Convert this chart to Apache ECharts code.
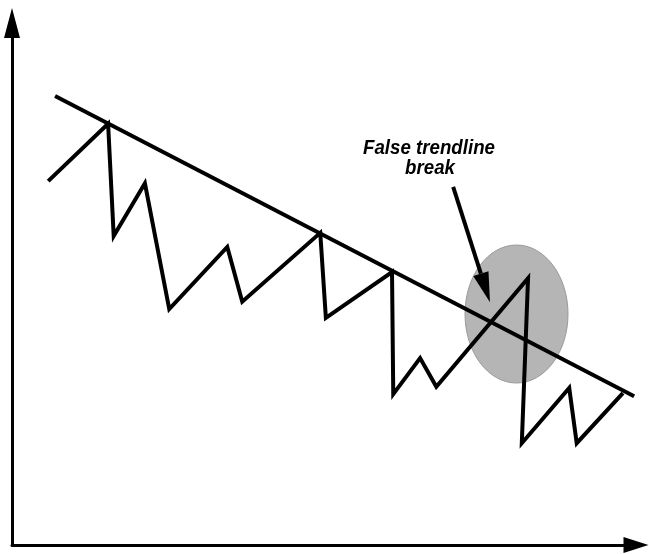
<!DOCTYPE html>
<html>
<head>
<meta charset="utf-8">
<script src="https://cdn.jsdelivr.net/npm/echarts@6/dist/echarts.min.js"></script>
<style>
  html, body { margin: 0; padding: 0; background: #fff; }
  #main { width: 649px; height: 554px; }
</style>
</head>
<body>
<div id="main"></div>
<script>
// price swings (time, price)
const priceX = [5.8, 15.4, 16.3, 21.3, 25.2, 34.5, 36.9, 49.4, 50.3, 60.9, 61.1, 65.4, 68.0, 82.7, 81.7, 89.3, 90.5, 97.9]
const priceY = [69.7, 80.7, 59.2, 69.3, 45.2, 57.1, 46.6, 59.8, 43.5, 52.3, 28.9, 35.8, 30.3, 51.1, 19.5, 30.1, 19.5, 29.1]
// trendline touching the highs
const trendX = [6.9, 99.7]
const trendY = [86.0, 28.5]
// false break zone and callout
const breakZone = [80.85, 44.25]
const calloutFrom = [70.7, 68.6]
const calloutTo = [76.6, 46.5]
const calloutText = ['False trendline', 'break']

const chart = echarts.init(document.getElementById('main'))

const hiddenAxis = {
  type: 'value',
  min: 0,
  max: 100,
  splitLine: { show: false },
  axisTick: { show: false },
  axisLabel: { show: false },
}

const option = {
  backgroundColor: '#fff',
  animation: false,
  grid: { left: 12, right: 13, top: 23, bottom: 9 },
  xAxis: Object.assign({}, hiddenAxis, {
    axisLine: {
      show: true,
      symbol: ['none', 'triangle'],
      symbolSize: [16, 25],
      lineStyle: { color: '#000', width: 3 },
    },
  }),
  yAxis: Object.assign({}, hiddenAxis, {
    axisLine: {
      show: true,
      symbol: ['none', 'triangle'],
      symbolSize: [16, 30],
      lineStyle: { color: '#000', width: 3 },
    },
  }),
  series: [
    {
      type: 'line',
      z: 3,
      showSymbol: false,
      data: priceX.map((x, i) => [x, priceY[i]]),
      lineStyle: { color: '#000', width: 4, join: 'miter', cap: 'butt' },
    },
    {
      type: 'line',
      z: 3,
      showSymbol: false,
      data: trendX.map((x, i) => [x, trendY[i]]),
      lineStyle: { color: '#000', width: 4, cap: 'butt' },
    },
  ],
}
chart.setOption(option)

// annotations placed through the axes
const c = chart.convertToPixel({ gridIndex: 0 }, breakZone)
const a = chart.convertToPixel({ gridIndex: 0 }, calloutFrom)
const b = chart.convertToPixel({ gridIndex: 0 }, calloutTo)
const dx = b[0] - a[0], dy = b[1] - a[1]
const len = Math.sqrt(dx * dx + dy * dy)
const ux = dx / len, uy = dy / len
const headLen = 30, headHalf = 8
const base = [b[0] - ux * headLen, b[1] - uy * headLen]

const labelFont = 'italic 900 21px "Liberation Sans", Arial, sans-serif'

chart.setOption({
  graphic: [
    {
      type: 'ellipse',
      z: 0,
      shape: { cx: c[0], cy: c[1], rx: 51.5, ry: 69 },
      style: { fill: '#b5b5b5', stroke: '#9a9a9a', lineWidth: 1 },
    },
    {
      type: 'line',
      z: 100,
      shape: { x1: a[0], y1: a[1], x2: base[0], y2: base[1] },
      style: { stroke: '#000', lineWidth: 4 },
    },
    {
      type: 'polygon',
      z: 100,
      shape: {
        points: [
          [b[0], b[1]],
          [base[0] - uy * headHalf, base[1] + ux * headHalf],
          [base[0] + uy * headHalf, base[1] - ux * headHalf],
        ],
      },
      style: { fill: '#000' },
    },
    {
      type: 'text',
      z: 100,
      x: 429,
      y: 148,
      scaleX: 0.89,
      style: {
        text: calloutText[0],
        fill: '#000',
        font: labelFont,
        textAlign: 'center',
        textVerticalAlign: 'middle',
      },
    },
    {
      type: 'text',
      z: 100,
      x: 430,
      y: 168,
      scaleX: 0.89,
      style: {
        text: calloutText[1],
        fill: '#000',
        font: labelFont,
        textAlign: 'center',
        textVerticalAlign: 'middle',
      },
    },
  ],
})
</script>
</body>
</html>
